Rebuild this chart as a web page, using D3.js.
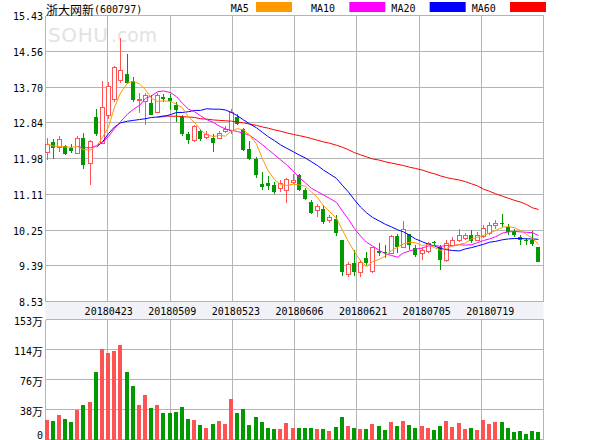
<!DOCTYPE html>
<html><head><meta charset="utf-8">
<script src="https://cdn.jsdelivr.net/npm/d3@7/dist/d3.min.js"></script>
<style>body{margin:0;background:#fff}svg{display:block}</style>
</head><body>
<svg id="c" width="600" height="440"></svg>
<script>
// ---------- data ----------
const stockName = "浙大网新";
const stockCode = "(600797)";
const open  = [12.12,12.38,12.25,12.27,12.24,12.10,12.48,11.86,12.97,12.34,
  13.01,13.40,13.86,14.03,13.84,13.37,13.36,13.32,13.09,13.46,
  13.43,13.26,12.99,12.56,12.42,12.65,12.48,12.47,12.46,12.62,
  12.66,12.98,12.70,12.20,11.96,11.36,11.38,11.34,11.26,11.20,
  11.39,11.57,11.21,10.93,10.72,10.77,10.49,10.51,10.01,9.17,
  9.47,9.23,9.59,9.26,9.76,9.73,9.70,10.11,9.84,10.16,
  9.81,9.69,9.73,9.96,9.84,9.51,9.89,9.99,10.06,10.14,
  10.01,10.09,10.17,10.37,10.42,10.33,10.21,10.09,10.01,10.01,
  9.84];
const high  = [12.47,12.46,12.52,12.30,12.34,12.52,12.60,12.42,13.18,13.85,
  13.82,14.20,14.89,14.49,13.94,13.57,13.57,13.50,13.55,13.54,
  13.54,13.34,13.02,12.62,12.78,12.70,12.64,12.58,12.64,12.76,
  13.18,13.05,12.72,12.40,12.02,11.66,11.55,11.41,11.46,11.50,
  11.60,11.60,11.26,10.97,10.88,10.85,10.61,10.61,10.01,9.49,
  9.77,9.53,9.73,9.84,9.93,9.89,10.13,10.17,10.47,10.17,
  9.89,9.85,9.97,9.99,9.89,10.01,10.09,10.29,10.18,10.25,
  10.20,10.37,10.45,10.49,10.64,10.39,10.28,10.13,10.05,10.24,
  9.85];
const low   = [11.95,11.96,12.14,12.06,12.11,12.08,11.73,11.33,12.52,12.32,
  12.94,13.34,13.80,13.78,13.34,13.07,12.80,13.02,13.07,13.34,
  13.14,12.86,12.52,12.32,12.38,12.40,12.45,12.14,12.44,12.59,
  12.58,12.78,12.16,11.94,11.52,11.21,11.21,11.12,11.17,10.91,
  11.37,11.20,10.99,10.65,10.56,10.41,10.43,10.11,9.14,9.11,
  9.14,9.13,9.41,9.21,9.63,9.57,9.69,9.69,9.81,9.77,
  9.61,9.54,9.71,9.89,9.29,9.49,9.87,9.97,10.01,9.95,
  9.99,10.06,10.13,10.29,10.32,10.13,10.08,9.89,9.89,9.87,
  9.48];
const close = [12.32,12.23,12.43,12.08,12.16,12.46,11.82,12.40,12.58,13.21,
  13.72,14.18,14.10,13.81,13.40,13.41,13.49,13.04,13.49,13.42,
  13.37,13.14,12.56,12.42,12.76,12.46,12.55,12.35,12.58,12.68,
  13.08,12.82,12.18,11.98,11.58,11.29,11.32,11.17,11.38,11.47,
  11.46,11.23,11.01,10.67,10.83,10.45,10.56,10.19,9.25,9.43,
  9.25,9.46,9.46,9.84,9.71,9.69,10.11,9.84,10.27,9.89,
  9.65,9.75,9.93,9.93,9.53,9.93,10.01,10.13,10.12,9.99,
  10.13,10.29,10.37,10.41,10.40,10.21,10.13,10.01,9.99,9.91,
  9.49];
const volume = [24.7,23.4,31,26,22,37.4,43.8,47.6,85.9,115.2,
  110,112.6,120.3,85.9,68,43.8,56.5,40,43.8,33.6,
  33.6,34.9,41.2,26,24.7,18.3,14.5,19.6,23.4,19.6,
  51.4,33.6,38.7,18.3,28.5,22.1,14.5,13.2,13.2,20.8,
  14.5,14.5,14.5,14.5,13.2,13.2,10.6,15.7,28.5,17,
  14.5,13.2,13.2,19.6,17,11.9,22.1,17,23.4,18.3,
  14.5,17,14.5,11.9,17,23.4,15.7,20.8,13.2,14.5,
  11.9,24.7,19.6,22.1,22.1,14.5,9.4,10.6,6.8,10.6,
  9.4];
const ma5 = [12.32,12.28,12.27,12.26,12.25,12.27,12.19,12.19,12.28,12.49,
  12.74,13.22,13.56,13.80,13.84,13.78,13.64,13.43,13.36,13.37,
  13.36,13.29,13.20,12.98,12.85,12.67,12.55,12.51,12.54,12.52,
  12.65,12.70,12.67,12.55,12.33,11.97,11.67,11.47,11.35,11.33,
  11.36,11.34,11.31,11.17,11.04,10.84,10.70,10.54,10.25,9.97,
  9.73,9.51,9.37,9.49,9.55,9.63,9.76,9.84,9.92,9.96,
  9.95,9.88,9.90,9.83,9.76,9.81,9.87,9.91,9.94,10.04,
  10.08,10.13,10.18,10.24,10.32,10.34,10.31,10.24,10.15,10.05,
  9.91];
const ma10 = [null,null,null,null,null,12.27,12.24,12.24,12.29,12.37,
  12.51,12.70,12.87,13.05,13.17,13.26,13.43,13.49,13.59,13.61,
  13.57,13.47,13.31,13.17,13.11,13.01,12.92,12.85,12.76,12.69,
  12.66,12.63,12.59,12.54,12.42,12.31,12.19,12.07,11.95,11.83,
  11.67,11.51,11.39,11.26,11.18,11.10,11.02,10.92,10.71,10.51,
  10.29,10.11,9.96,9.87,9.76,9.68,9.64,9.60,9.70,9.75,
  9.79,9.82,9.87,9.88,9.86,9.88,9.87,9.90,9.89,9.90,
  9.95,10.00,10.04,10.09,10.18,10.21,10.22,10.21,10.20,10.19,
  10.12];
const ma20 = [null,null,null,null,null,null,null,null,12.26,12.38,
  12.58,12.74,12.84,12.88,12.90,12.92,12.94,12.97,12.98,12.99,
  13.04,13.09,13.09,13.11,13.14,13.14,13.18,13.17,13.17,13.15,
  13.09,13.01,12.91,12.82,12.72,12.61,12.50,12.41,12.31,12.23,
  12.14,12.06,11.99,11.90,11.81,11.70,11.61,11.50,11.33,11.17,
  10.98,10.81,10.67,10.56,10.47,10.39,10.33,10.26,10.21,10.13,
  10.04,9.97,9.91,9.87,9.81,9.78,9.76,9.75,9.80,9.83,
  9.87,9.91,9.96,9.98,10.02,10.04,10.05,10.05,10.04,10.04,
  10.03];
const ma60 = [null,null,null,null,null,null,null,null,null,null,
  null,null,null,null,null,null,null,null,12.98,13.01,
  13.00,13.00,12.99,12.98,12.97,12.94,12.93,12.91,12.90,12.89,
  12.88,12.86,12.84,12.81,12.78,12.74,12.71,12.67,12.64,12.60,
  12.56,12.53,12.50,12.46,12.42,12.38,12.35,12.30,12.25,12.19,
  12.12,12.07,12.02,11.97,11.94,11.90,11.87,11.84,11.81,11.77,
  11.74,11.70,11.65,11.61,11.56,11.52,11.49,11.46,11.42,11.37,
  11.32,11.24,11.19,11.13,11.07,11.02,10.97,10.93,10.87,10.79,
  10.75];
const priceTicks  = [15.43,14.5675,13.705,12.8425,11.98,11.1175,10.255,9.3925,8.53];
const priceLabels = ["15.43","14.56","13.70","12.84","11.98","11.11","10.25","9.39","8.53"];
const volTicks    = [153,114.75,76.5,38.25,0];
const volNums     = ["153","114","76","38","0"];
const volUnits    = ["万","万","万","万",""];
const dateLabels  = ["20180423","20180509","20180523","20180606","20180621","20180705","20180719"];
const maNames     = ["MA5","MA10","MA20","MA60"];

// ---------- styles / layout ----------
const maColor = {MA5:"#ff9900", MA10:"#ff00ff", MA20:"#0000ff", MA60:"#ff0000"};
const UP = "#ff5252", DOWN = "#009a00", GRID = "#b4b4b4";
const MONO = "'DejaVu Sans Mono', 'Liberation Mono', monospace";
const CJK = "'Noto Sans CJK SC', sans-serif";
const L = 45.5, R = 543.5, T = 15.5, PB = 301.5, VT = 319.5, VB = 439.5;

const svg = d3.select("#c");
const n = open.length;
const idx = d3.range(n);
const x = d3.scaleBand().domain(idx).range([44, 542]).paddingInner(0.35).paddingOuter(0.175);
const cx = i => Math.floor(x(i) + x.bandwidth() / 2) + 0.5;
const y = d3.scaleLinear().domain([8.53, 15.43]).range([PB, T]);
const vy = d3.scaleLinear().domain([0, 153]).range([VB, VT]);
const gx = d3.scaleLinear().domain([0, 8]).range([L, R]);
const dx = d3.scalePoint().domain(dateLabels).range([108.7, 490.3]);

// watermark
svg.append("text").attr("x", 48).attr("y", 42).attr("font-family", "'DejaVu Sans', sans-serif")
  .attr("font-size", 20).attr("fill", "#e2e2e2").attr("textLength", 60).attr("lengthAdjust", "spacing").text("SOHU");
svg.append("text").attr("x", 111).attr("y", 42).attr("font-family", "'DejaVu Sans', sans-serif")
  .attr("font-size", 20).attr("fill", "#e2e2e2").attr("textLength", 46).attr("lengthAdjust", "spacingAndGlyphs").text(".com");

// date band
svg.append("rect").attr("x", L).attr("y", PB).attr("width", R - L).attr("height", VT - PB).attr("fill", "#f1f2f7");

// grid
const g = svg.append("g").attr("stroke", GRID).attr("stroke-width", 1).attr("shape-rendering", "crispEdges");
g.selectAll(".hp").data(priceTicks).join("line")
  .attr("x1", L).attr("x2", R).attr("y1", d => y(d)).attr("y2", d => y(d));
g.selectAll(".hv").data(volTicks).join("line").attr("class", "hv")
  .attr("x1", L).attr("x2", R).attr("y1", d => vy(d)).attr("y2", d => vy(d));
g.selectAll(".vp").data(d3.range(9)).join("line").attr("class", "vp")
  .attr("x1", d => gx(d)).attr("x2", d => gx(d)).attr("y1", T).attr("y2", PB);
g.selectAll(".vv").data(d3.range(9)).join("line").attr("class", "vv")
  .attr("x1", d => gx(d)).attr("x2", d => gx(d)).attr("y1", VT).attr("y2", VB);

// y labels
svg.append("g").selectAll("text").data(priceTicks).join("text")
  .attr("x", 43).attr("y", d => y(d) + 1).attr("text-anchor", "end").attr("dominant-baseline", "central")
  .attr("font-family", MONO).attr("font-size", 10).attr("fill", "#000")
  .text((d, i) => priceLabels[i]);
const vl = svg.append("g").selectAll("text").data(volTicks).join("text")
  .attr("x", 43).attr("y", (d, i) => i === volTicks.length - 1 ? vy(d) - 5 : vy(d) + 1)
  .attr("text-anchor", "end").attr("dominant-baseline", "central").attr("fill", "#000");
vl.append("tspan").attr("font-family", MONO).attr("font-size", 10).text((d, i) => volNums[i]);
vl.append("tspan").attr("font-family", CJK).attr("font-size", 11).text((d, i) => volUnits[i]);

// date labels
svg.append("g").selectAll("text").data(dateLabels).join("text")
  .attr("x", d => dx(d)).attr("y", 311.5).attr("text-anchor", "middle").attr("dominant-baseline", "central")
  .attr("font-family", MONO).attr("font-size", 10).attr("fill", "#000").text(d => d);

// volume bars
svg.append("g").attr("shape-rendering", "crispEdges").selectAll("rect").data(idx).join("rect")
  .attr("x", i => cx(i) - 2.5).attr("width", 4)
  .attr("y", i => vy(volume[i])).attr("height", i => vy(0) - vy(volume[i]))
  .attr("fill", i => close[i] >= open[i] ? UP : DOWN);

// candles
const cg = svg.append("g").attr("shape-rendering", "crispEdges");
cg.selectAll("line").data(idx).join("line")
  .attr("x1", cx).attr("x2", cx).attr("y1", i => y(high[i])).attr("y2", i => y(low[i]))
  .attr("stroke", i => close[i] >= open[i] ? UP : DOWN).attr("stroke-width", 1);
cg.selectAll("rect").data(idx).join("rect")
  .attr("x", i => close[i] >= open[i] ? cx(i) - 2 : cx(i) - 2.5)
  .attr("width", i => close[i] >= open[i] ? 4 : 4)
  .attr("y", i => y(Math.max(open[i], close[i])))
  .attr("height", i => Math.max(1, y(Math.min(open[i], close[i])) - y(Math.max(open[i], close[i]))))
  .attr("fill", i => close[i] >= open[i] ? "#fff" : DOWN)
  .attr("stroke", i => close[i] >= open[i] ? UP : "none").attr("stroke-width", 1);

// moving averages (MA60 first, MA5 on top)
const maData = {MA5: ma5, MA10: ma10, MA20: ma20, MA60: ma60};
const line = arr => d3.line().defined(i => arr[i] != null).x(i => cx(i)).y(i => y(arr[i]))(idx);
["MA60", "MA20", "MA10", "MA5"].forEach(k => {
  svg.append("path").attr("d", line(maData[k])).attr("fill", "none")
    .attr("stroke", maColor[k]).attr("stroke-width", 1);
});

// title
const t = svg.append("text").attr("x", 46).attr("y", 8.5).attr("dominant-baseline", "central").attr("fill", "#000");
t.append("tspan").attr("font-family", CJK).attr("font-size", 12).text(stockName);
t.append("tspan").attr("font-family", MONO).attr("font-size", 10).text(stockCode);

// legend
const legX = d3.scalePoint().domain(maNames).range([230.7, 471.7]);
const lg = svg.append("g").selectAll("g").data(maNames).join("g");
lg.append("text").attr("x", d => legX(d)).attr("y", 8).attr("dominant-baseline", "central")
  .attr("font-family", MONO).attr("font-size", 10).attr("fill", "#000").text(d => d);
lg.append("rect").attr("x", d => legX(d) + (d === "MA5" ? 25.3 : 38.3)).attr("y", 2).attr("width", 36).attr("height", 10)
  .attr("fill", d => maColor[d]);
</script>
</body></html>
